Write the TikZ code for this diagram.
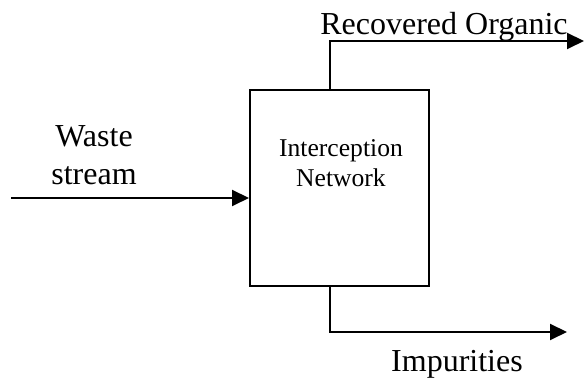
\documentclass[tikz,border=0pt]{standalone}
\usepackage{fontspec}
\setmainfont{Liberation Serif}
\usetikzlibrary{arrows.meta, positioning, calc}

\begin{document}
\begin{tikzpicture}[
    x=0.5pt, y=0.5pt,
    unit/.style={rectangle, draw=black, line width=1pt, minimum width=89.5pt, minimum height=98pt, inner sep=0pt},
    label/.style={font=\fontsize{16}{19}\selectfont, inner sep=0pt, align=center},
    inner/.style={font=\fontsize{12.8}{15}\selectfont, inner sep=0pt, align=center},
    flow/.style={-{Triangle[length=8.5pt, width=8pt]}, line width=1pt}
]
    \useasboundingbox (0,0) rectangle (584,379);

    \node[unit] (net) at (339.5,191) {};
    \node[inner, anchor=base] (netname) at (341,192) {Interception\\Network};

    \coordinate (src) at (11,181);
    \coordinate (topstub) at (330,289);
    \coordinate (orgend) at (584,338);
    \coordinate (botstub) at (330,93);
    \coordinate (impend) at (567,47);

    \node[label, anchor=base] (waste) at (94,194) {Waste\\stream};
    \node[label, anchor=base] (organic) at (444,344) {Recovered Organic};
    \node[label, anchor=base] (impure) at (457,7) {Impurities};

    \draw[flow] (src) -- (src -| net.west);
    \draw[flow] (topstub) |- (orgend);
    \draw[flow] (botstub) |- (impend);
\end{tikzpicture}
\end{document}
